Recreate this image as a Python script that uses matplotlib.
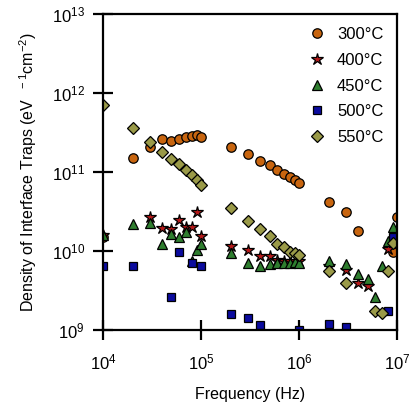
#!/usr/bin/env python3
"""Density of interface traps vs. frequency for several anneal temperatures."""

import matplotlib

matplotlib.use("Agg")
import matplotlib.pyplot as plt
import numpy as np

# frequencies (Hz) and Dit values (eV^-1 cm^-2)
freq_300 = [1e4, 2e4, 3e4, 4e4, 5e4, 6e4, 7e4, 8e4, 9e4, 1e5,
            2e5, 3e5, 4e5, 5e5, 6e5, 7e5, 8e5, 9e5, 1e6,
            2e6, 3e6, 4e6, 9e6, 1e7]
dit_300 = [1.5e10, 1.5e11, 2.07e11, 2.6e11, 2.44e11, 2.6e11, 2.72e11, 2.85e11, 2.9e11, 2.77e11,
           2.03e11, 1.66e11, 1.38e11, 1.22e11, 1.05e11, 9.3e10, 8.5e10, 7.9e10, 7.3e10,
           4.18e10, 3.07e10, 1.78e10, 9.7e9, 2.7e10]

freq_400 = [1e4, 3e4, 4e4, 5e4, 6e4, 7e4, 8e4, 9e4, 1e5,
            2e5, 3e5, 4e5, 5e5, 6e5, 7e5, 8e5, 9e5, 1e6,
            2e6, 3e6, 4e6, 5e6, 8e6]
dit_400 = [1.6e10, 2.7e10, 1.96e10, 1.92e10, 2.45e10, 2.0e10, 2.02e10, 3.07e10, 1.54e10,
           1.15e10, 1.02e10, 8.7e9, 8.7e9, 7.6e9, 7.5e9, 7.5e9, 7.4e9, 7.4e9,
           6.5e9, 5.7e9, 3.9e9, 3.6e9, 1.07e10]

freq_450 = [1e4, 2e4, 3e4, 4e4, 5e4, 6e4, 7e4, 8e4, 9e4, 1e5,
            2e5, 3e5, 4e5, 5e5, 6e5, 7e5, 8e5, 9e5, 1e6,
            2e6, 3e6, 4e6, 5e6, 6e6, 7e6, 8e6, 9e6]
dit_450 = [1.6e10, 2.16e10, 2.23e10, 1.24e10, 1.66e10, 1.48e10, 1.74e10, 7.4e9, 1.02e10, 1.24e10,
           9.3e9, 6.95e9, 6.4e9, 6.75e9, 6.95e9, 7.1e9, 7.1e9, 7.2e9, 7.0e9,
           7.4e9, 6.75e9, 5.1e9, 4.37e9, 2.63e9, 6.5e9, 1.34e10, 2.0e10]

freq_500 = [1e4, 2e4, 5e4, 6e4, 8e4, 1e5, 2e5, 3e5, 4e5, 1e6, 2e6, 3e6, 8e6, 9e6]
dit_500 = [6.4e9, 6.4e9, 2.58e9, 9.75e9, 7.1e9, 6.4e9, 1.59e9, 1.4e9, 1.15e9, 1.0e9,
           1.18e9, 1.1e9, 1.75e9, 1.5e10]

freq_550 = [1e4, 2e4, 3e4, 4e4, 5e4, 6e4, 7e4, 8e4, 9e4, 1e5,
            2e5, 3e5, 4e5, 5e5, 6e5, 7e5, 8e5, 9e5, 1e6,
            2e6, 3e6, 6e6, 7e6, 8e6, 9e6]
dit_550 = [6.9e11, 3.6e11, 2.35e11, 1.76e11, 1.45e11, 1.25e11, 1.05e11, 9.1e10, 7.85e10, 6.8e10,
           3.5e10, 2.38e10, 1.89e10, 1.55e10, 1.24e10, 1.13e10, 9.75e9, 9.3e9, 8.85e9,
           5.6e9, 3.95e9, 1.73e9, 1.62e9, 5.6e9, 1.25e10]

labels = ["300°C", "400°C", "450°C", "500°C", "550°C"]


def main() -> None:
    plt.rcParams.update(
        {
            "font.family": ["Liberation Sans", "DejaVu Sans"],
            "mathtext.fontset": "custom",
            "mathtext.rm": "Liberation Sans",
            "mathtext.it": "Liberation Sans",
            "mathtext.default": "regular",
            "axes.linewidth": 1.6,
        }
    )

    fig = plt.figure(figsize=(4.12, 4.11), dpi=100)
    ax = fig.add_axes([0.25, 0.197, 0.7136, 0.770])

    series = [
        (freq_300, dit_300, dict(marker="o", ms=6.8, mfc="#C8650F")),
        (freq_400, dit_400, dict(marker="*", ms=9.2, mfc="#B51A1A")),
        (freq_450, dit_450, dict(marker="^", ms=7.4, mfc="#2F7E2F")),
        (freq_500, dit_500, dict(marker="s", ms=6.2, mfc="#0B0B9E")),
        (freq_550, dit_550, dict(marker="D", ms=6.0, mfc="#9A9A48")),
    ]
    for (f, d, style), lab in zip(series, labels):
        ax.plot(f, d, ls="none", mec="black", mew=0.9, label=lab, **style)

    ax.set_xscale("log")
    ax.set_yscale("log")
    ax.set_xlim(1e4, 1e7)
    ax.set_ylim(1e9, 1e13)
    ax.set_xticks([1e4, 1e5, 1e6, 1e7])
    ax.set_yticks([1e9, 1e10, 1e11, 1e12, 1e13])
    ax.minorticks_off()
    ax.tick_params(which="major", direction="inout", length=14, width=1.6,
                   labelsize=12)
    ax.tick_params(axis="x", pad=9)
    ax.tick_params(axis="y", pad=6)

    ax.set_xlabel("Frequency (Hz)", fontsize=11.5, labelpad=11)
    ax.set_ylabel(r"Density of Interface Traps (eV$^{\ \ \ -1}$cm$^{-2}$)",
                  fontsize=11.5, labelpad=9)

    ax.legend(loc="upper right", frameon=False, fontsize=12,
              handletextpad=0.6, labelspacing=0.64, borderaxespad=0.42,
              handlelength=1.2)

    fig.savefig("out.png", dpi=100)
    plt.close(fig)


if __name__ == "__main__":
    main()
